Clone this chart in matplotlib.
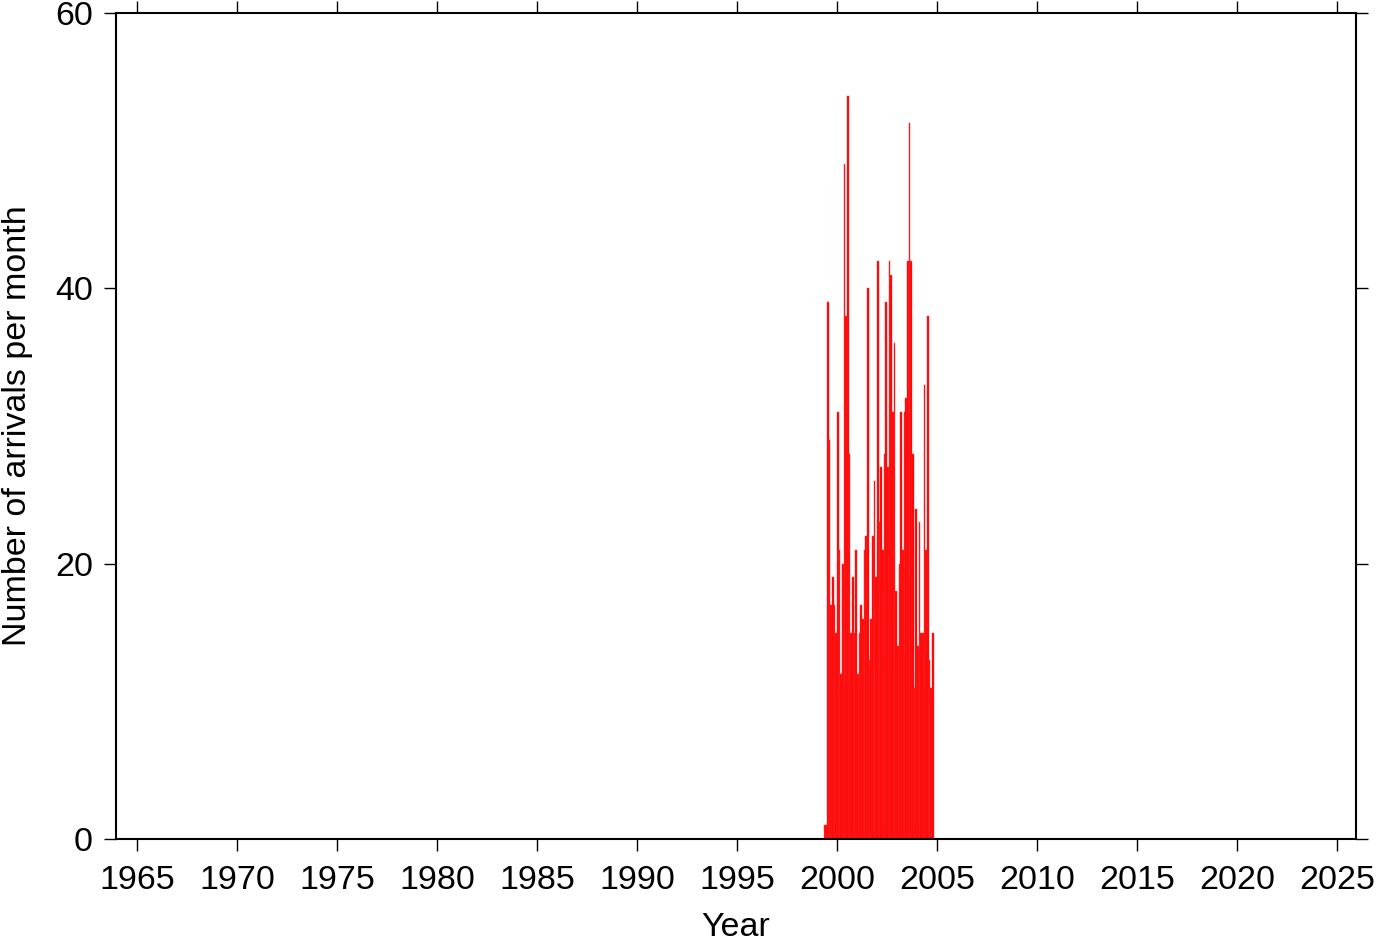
import numpy as np
import matplotlib
matplotlib.use('Agg')
import matplotlib.pyplot as plt

plt.rcParams['font.family'] = ['Liberation Sans', 'DejaVu Sans']

# monthly arrival counts, May 1999 .. Oct 2004
start_year = 1999
start_month = 5
counts_1999 = [1, 1, 39, 29, 17, 19, 17, 15]
counts_2000 = [31, 21, 12, 20, 49, 38, 54, 28, 15, 19, 15, 21]
counts_2001 = [12, 15, 17, 16, 21, 22, 40, 13, 16, 22, 26, 19]
counts_2002 = [42, 23, 27, 21, 28, 39, 27, 42, 41, 31, 36, 18]
counts_2003 = [14, 20, 31, 21, 31, 32, 42, 52, 42, 28, 11, 24]
counts_2004 = [14, 23, 15, 15, 33, 21, 38, 13, 11, 15]

x_ticks = list(range(1965, 2030, 5))
y_ticks = [0, 20, 40, 60]

counts = counts_1999 + counts_2000 + counts_2001 + counts_2002 + counts_2003 + counts_2004
months = np.arange(len(counts))
t_left = start_year + (start_month - 1) / 12.0 + months / 12.0

fig = plt.figure(figsize=(13.82, 9.42), dpi=100)
ax = fig.add_axes([116 / 1382, 103 / 942, 1240 / 1382, 826 / 942])

ax.bar(t_left, counts, width=1 / 12.0, align='edge', color='#ff0000',
       edgecolor='#ff3333', linewidth=0.3)

ax.set_xlim(1963.95, 2025.95)
ax.set_ylim(0, 60)
ax.set_xticks(x_ticks)
ax.set_yticks(y_ticks)

for sp in ax.spines.values():
    sp.set_linewidth(1.5)

ax.tick_params(axis='both', which='both', direction='out', length=8.5, width=1.0,
               labelsize=24.5, top=True, right=True)
ax.tick_params(axis='x', pad=10)
ax.tick_params(axis='y', pad=8)

ax.set_xlabel('Year', fontsize=24.5, labelpad=12)
ax.set_ylabel('Number of arrivals per month', fontsize=24.5, labelpad=16)

fig.savefig('out.png', dpi=100)
plt.close(fig)
